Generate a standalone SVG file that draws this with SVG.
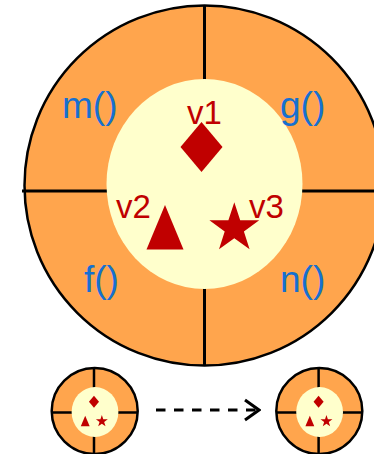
<svg xmlns="http://www.w3.org/2000/svg" width="374" height="454" viewBox="0 0 374 454">
<style>
.outer{fill:#FFA54D;stroke:#000;stroke-width:2.5}
.inner{fill:#FFFFCC}
.ln{stroke:#000;stroke-width:3}
.shape{fill:#C00000}
.fn{font-family:"Liberation Sans",Arial,sans-serif;font-size:37px;fill:#1670D0}
.var{font-family:"Liberation Sans",Arial,sans-serif;font-size:33px;fill:#C00000}
.sm .ln{stroke-width:2.5}
.sm .outer{stroke-width:2.5}
</style>
<defs>
<marker id="chev" viewBox="0 0 18 24" refX="16" refY="12" markerWidth="18" markerHeight="24" markerUnits="userSpaceOnUse" orient="auto">
<path d="M2,2 L16,12 L2,22" fill="none" stroke="#000" stroke-width="3"/>
</marker>
</defs>
<g id="big-node">
<circle class="outer" cx="204.5" cy="185.5" r="180"/>
<line class="ln" x1="204.5" y1="5" x2="204.5" y2="366"/>
<line class="ln" x1="22" y1="191" x2="374" y2="191"/>
<ellipse class="inner" cx="204.5" cy="184" rx="98" ry="105"/>
<text class="fn" x="62" y="118">m()</text>
<text class="fn" x="280" y="118">g()</text>
<text class="fn" x="84" y="292">f()</text>
<text class="fn" x="280" y="292">n()</text>
<text class="var" x="187" y="124">v1</text>
<text class="var" x="116" y="218">v2</text>
<text class="var" x="249" y="218">v3</text>
<polygon class="shape" points="201.5,122 222.5,147 201.5,172 180.5,147"/>
<polygon class="shape" points="165,205 183.5,249.5 146.5,249.5"/>
<polygon class="shape" points="234.3,202.3 240.2,220.2 259.2,220.2 243.9,231.4 249.6,249.3 234.3,238.3 219,249.3 224.7,231.4 209.4,220.2 228.4,220.2"/>
</g>
<g id="small-node-left" class="sm">
<circle class="outer" cx="94.7" cy="411" r="43"/>
<line class="ln" x1="94" y1="368" x2="94" y2="454"/>
<line class="ln" x1="51" y1="412.5" x2="138" y2="412.5"/>
<ellipse class="inner" cx="95" cy="412" rx="23.4" ry="25"/>
<g transform="translate(94.7,411) scale(0.24) translate(-204.5,-185.5)">
<polygon class="shape" points="201.5,122 222.5,147 201.5,172 180.5,147"/>
<polygon class="shape" points="165,205 183.5,249.5 146.5,249.5"/>
<polygon class="shape" points="234.3,202.3 240.2,220.2 259.2,220.2 243.9,231.4 249.6,249.3 234.3,238.3 219,249.3 224.7,231.4 209.4,220.2 228.4,220.2"/>
</g>
</g>
<g id="small-node-right" class="sm">
<circle class="outer" cx="319.3" cy="411" r="43"/>
<line class="ln" x1="318.6" y1="368" x2="318.6" y2="454"/>
<line class="ln" x1="276" y1="412.5" x2="363" y2="412.5"/>
<ellipse class="inner" cx="319.6" cy="412" rx="23.4" ry="25"/>
<g transform="translate(319.3,411) scale(0.24) translate(-204.5,-185.5)">
<polygon class="shape" points="201.5,122 222.5,147 201.5,172 180.5,147"/>
<polygon class="shape" points="165,205 183.5,249.5 146.5,249.5"/>
<polygon class="shape" points="234.3,202.3 240.2,220.2 259.2,220.2 243.9,231.4 249.6,249.3 234.3,238.3 219,249.3 224.7,231.4 209.4,220.2 228.4,220.2"/>
</g>
</g>
<g id="connectors">
<line x1="156" y1="410" x2="259" y2="410" stroke="#000" stroke-width="3" stroke-dasharray="9.5 8.5" marker-end="url(#chev)"/>
</g>
</svg>
